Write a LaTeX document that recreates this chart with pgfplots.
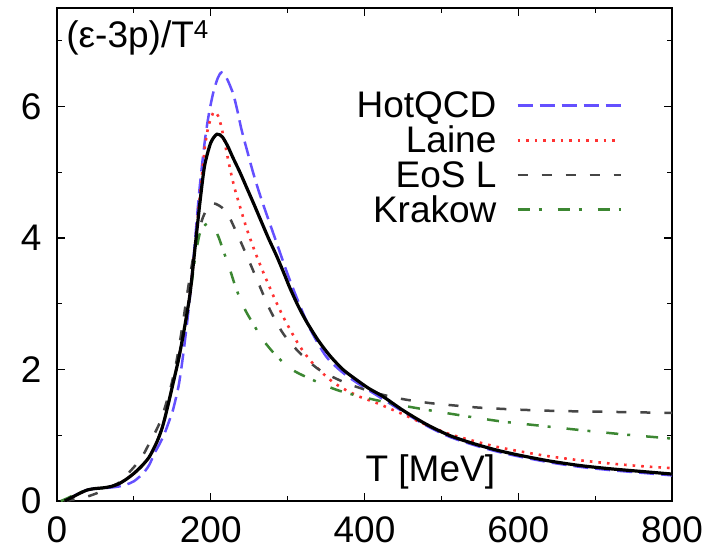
\documentclass[border=0pt]{standalone}
\usepackage{fontspec}
\setmainfont{Liberation Sans}
\usepackage{pgfplots}
\pgfplotsset{compat=1.18}
\newcommand\bigf{\fontsize{37}{44}\selectfont}
\definecolor{cblue}{RGB}{100,80,255}
\definecolor{cred}{RGB}{255,50,50}
\definecolor{cgray}{RGB}{70,70,70}
\definecolor{cgreen}{RGB}{60,135,50}
\begin{document}
\begin{tikzpicture}
\begin{axis}[
  name=ax,
  scale only axis, width=615pt, height=493pt,
  xmin=0, xmax=800, ymin=0, ymax=7.5,
  xtick={0,200,400,600,800}, minor xtick={100,300,500,700},
  ytick={0,2,4,6}, minor ytick={1,3,5,7},
  tick align=inside, major tick length=8pt, minor tick length=5pt,
  every tick/.style={black, line width=1.2pt},
  axis line style={line width=1.3pt},
  /pgf/number format/assume math mode=true,
  tick label style={font=\bigf},
  xticklabel style={yshift=-12pt},
  yticklabel style={xshift=-12pt},
  xlabel={T [MeV]},
  xlabel style={font=\bigf, at={(axis description cs:0.607,0.059)}, anchor=center},
  ylabel={(ε-3p)/T\textsuperscript{4}},
  ylabel style={font=\bigf, rotate=-90, at={(axis description cs:0.015,0.975)}, anchor=north west, inner sep=0pt},
  legend plot pos=right,
  legend cell align=right,
  legend image code/.code={\draw[#1] (0pt,0pt) -- (103pt,0pt); \path (0pt,-6pt);},
  legend style={at={(axis description cs:0.919,0.834)}, anchor=north east, draw=none, fill=none,
    inner sep=0pt, font=\bigf, column sep=18pt, row sep=2.8pt},
  every axis plot/.append style={smooth, tension=0.45},
]
\addplot[cblue, line width=2.5pt, dash pattern=on 15pt off 7pt] coordinates {
(10,0.00)(20,0.06)(30,0.13)(40,0.17)(50,0.19)(65,0.20)(80,0.22)(90,0.25)(100,0.30)
(112,0.42)(120,0.55)(127,0.73)(134,0.88)(140,1.03)(146,1.22)(151,1.39)(158,1.74)(162,2.04)
(166,2.40)(172,3.0)(178,3.75)(185,4.7)(192,5.45)(197,5.85)(203,6.2)(209,6.43)(214,6.52)
(220,6.45)(229,6.2)(235,5.92)(240,5.65)(248,5.3)(255,5.0)(262,4.73)(270,4.45)(285,3.95)
(300,3.45)(315,3.0)(330,2.6)(350,2.2)(370,1.97)(390,1.80)(424,1.55)(450,1.36)(480,1.15)
(510,0.98)(540,0.86)(570,0.76)(600,0.68)(640,0.59)(680,0.52)(720,0.47)(760,0.43)(800,0.39)};
\addlegendentry{HotQCD}
\addplot[cred, line width=2.6pt, dash pattern=on 2.6pt off 6pt] coordinates {
(10,0.00)(20,0.06)(30,0.12)(40,0.17)(50,0.19)(60,0.20)(70,0.22)(80,0.26)(90,0.33)(100,0.42)
(110,0.53)(120,0.67)(130,0.90)(137,1.12)(143,1.39)(151,1.79)(158,2.15)(165,2.58)(173,3.15)
(180,3.95)(186,4.65)(192,5.35)(197,5.7)(204,5.92)(210,5.85)(214,5.68)(218,5.46)(225,5.06)
(231,4.76)(238,4.48)(246,4.17)(255,3.87)(264,3.6)(273,3.35)(283,3.08)(294,2.81)(305,2.57)
(316,2.35)(330,2.13)(346,1.94)(360,1.80)(377,1.68)(395,1.58)(416,1.49)(450,1.32)(480,1.16)
(510,1.02)(540,0.92)(570,0.83)(600,0.76)(640,0.68)(680,0.62)(720,0.57)(760,0.53)(800,0.50)};
\addlegendentry{Laine}
\addplot[cgray, line width=2.5pt, dash pattern=on 10pt off 14pt] coordinates {
(10,0.0)(25,0.03)(40,0.07)(52,0.12)(65,0.19)(82,0.29)(95,0.45)(104,0.57)(113,0.72)(121,0.90)
(128,1.05)(136,1.26)(147,1.69)(155,2.1)(163,2.65)(170,3.2)(177,3.7)(183,4.05)(190,4.32)
(197,4.48)(203,4.53)(210,4.5)(218,4.43)(225,4.3)(231,4.15)(238,3.97)(251,3.62)(264,3.26)
(277,2.91)(294,2.55)(316,2.25)(342,1.99)(377,1.79)(416,1.64)(450,1.55)(485,1.49)(520,1.45)
(550,1.42)(600,1.39)(650,1.37)(700,1.36)(750,1.35)(800,1.34)};
\addlegendentry{EoS L}
\addplot[cgreen, line width=2.5pt, dash pattern=on 12pt off 9pt on 3pt off 16pt] coordinates {
(5,0.0)(15,0.05)(25,0.11)(35,0.15)(47,0.18)(60,0.20)(70,0.22)(80,0.26)(90,0.33)(100,0.42)
(110,0.53)(120,0.67)(130,0.90)(137,1.12)(143,1.39)(151,1.79)(158,2.15)(165,2.58)(173,3.12)
(179,3.65)(186,4.08)(195,4.22)(203,4.18)(210,4.02)(216,3.82)(225,3.52)(231,3.3)(238,3.08)
(246,2.88)(255,2.70)(268,2.45)(286,2.20)(307,1.99)(333,1.84)(364,1.69)(398,1.58)(446,1.46)
(500,1.35)(572,1.22)(625,1.15)(680,1.08)(740,1.01)(800,0.95)};
\addlegendentry{Krakow}
\addplot[black, line width=3.2pt, forget plot] coordinates {
(10,0.00)(20,0.06)(30,0.12)(40,0.17)(50,0.19)(60,0.20)(70,0.22)(80,0.26)(90,0.33)(100,0.42)
(110,0.53)(120,0.67)(130,0.90)(137,1.12)(143,1.39)(151,1.79)(158,2.15)(165,2.58)(173,3.15)
(180,3.9)(186,4.55)(192,5.1)(200,5.45)(208,5.58)(215,5.54)(222,5.40)(229,5.22)(238,5.0)
(247,4.76)(256,4.52)(264,4.30)(275,4.0)(286,3.72)(295,3.47)(303,3.24)(314,2.96)(325,2.72)
(340,2.44)(355,2.21)(372,2.0)(390,1.84)(406,1.71)(424,1.59)(450,1.38)(480,1.17)(510,1.00)
(540,0.88)(570,0.78)(600,0.70)(640,0.61)(680,0.54)(720,0.49)(760,0.45)(800,0.41)};
\end{axis}
\path (ax.south west) ++(-57pt,-57pt) coordinate (bbA);
\path (ax.north east) ++(39pt,8pt) coordinate (bbB);
\path (bbA) rectangle (bbB);
\end{tikzpicture}
\end{document}
